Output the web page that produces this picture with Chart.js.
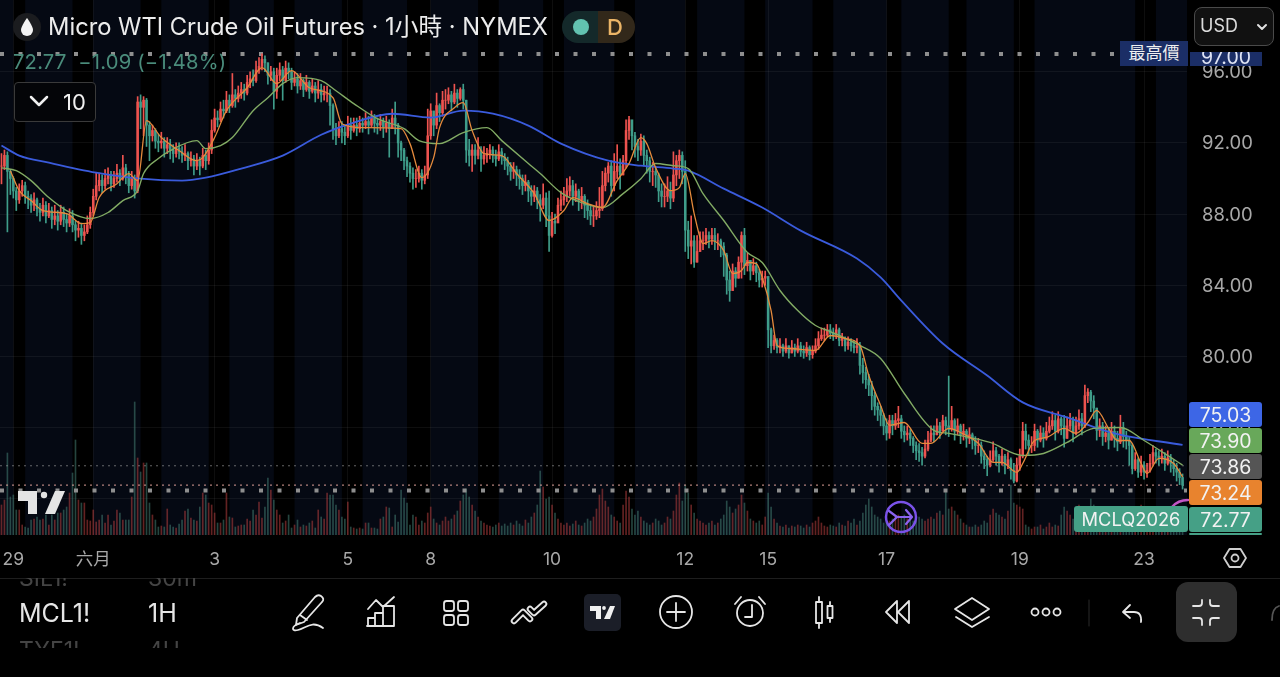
<!DOCTYPE html>
<html>
<head>
<meta charset="utf-8">
<title>MCL1!</title>
<script src="https://cdn.jsdelivr.net/npm/chart.js@4/dist/chart.umd.min.js"></script>
<style>
    html, body { margin: 0; padding: 0; background: #000; }
    body { width: 1280px; height: 677px; overflow: hidden; position: relative; font-family: Inter, "Noto Sans CJK TC", sans-serif; color: #e6e6e6; }
    canvas { position: absolute; left: 0; top: 0; }
    svg { position: absolute; left: 0; top: 0; }
    .abs { position: absolute; white-space: nowrap; }
    .tag { position: absolute; left: 1189px; width: 73px; text-align: center; color: #f2f2f2; font-size: 19.5px; border-radius: 3px; }
    .clip { position: absolute; overflow: hidden; color: #444; font-size: 23px; white-space: nowrap; }
</style>
</head>
<body>
<canvas id="chart" width="1280" height="677"></canvas>

<div class="abs" style="left:14px;top:82px;width:80px;height:38px;border:1px solid #3a3a3a;border-radius:4px;background:#040508"></div>
<div class="abs" style="left:1194px;top:7px;width:78px;height:37px;border:1px solid #4a4a4a;border-radius:8px;background:#111"></div>

<svg width="1280" height="677" fill="none" stroke="#e6e6e6" stroke-width="1.8" stroke-linecap="round" stroke-linejoin="round">
    <!-- symbol badge -->
    <circle cx="27" cy="27" r="14" fill="#1b1c1f" stroke="none"/>
    <path d="M27 18 C27 18 21 26 21 30 a6 6 0 0 0 12 0 C33 26 27 18 27 18z" fill="#f4f4f4" stroke="none"/>
    <path d="M580 11 H578 a16 16 0 0 0 0 32 H598 V11z" fill="#14292a" stroke="none"/>
    <path d="M598 11 H619 a16 16 0 0 1 0 32 H598z" fill="#32281a" stroke="none"/>
    <circle cx="581" cy="27" r="8" fill="#62c2b0" stroke="none"/>
    <!-- legend collapse chevron -->
    <polyline points="31,97 39,105 47,97" stroke="#f0f0f0" stroke-width="2.5"/>
    <polyline points="1258,25 1262,29 1266,25" stroke="#e0e0e0" stroke-width="2"/>
    <!-- TV logo on the pane -->
    <g fill="#e4e4e4" stroke="none">
        <path d="M18 491 H37 V514 H28 V501 H18z"/>
        <circle cx="44" cy="495" r="3.2"/>
        <path d="M55 491 H65 L55 514 H45z"/>
    </g>
    <!-- go-to-realtime and marker -->
    <circle cx="901" cy="517" r="15" stroke="#7a52e8" stroke-width="2.5"/>
    <path d="M889 511 L897 517 H912 M897 517 L889 525 M906 510 L912 517 L906 524" stroke="#8a63f0" stroke-width="2.2"/>
    <path d="M1172 507 Q1178 500 1188 500" stroke="#c256c4" stroke-width="2.5"/>
    <!-- settings hexagon -->
    <polygon points="1224,558 1229.500,549 1240.500,549 1246,558 1240.500,567 1229.500,567" stroke="#cfcfcf"/>
    <circle cx="1235" cy="558" r="3.5" stroke="#cfcfcf"/>
    <line x1="0" y1="578.500" x2="1280" y2="578.500" stroke="#1e1e1e" stroke-width="1"/>
    <!-- toolbar icons -->
    <path d="M297 618 L315 597 q3 -3 6 -1 q4 3 1 6 L304 622 L296 625z M300 615 L307 620"/>
    <path d="M300 623 C291 626 291 632 298 630 C306 628 312 620 323 628"/>
    <path d="M368 609 L376 600 L383 607 L394 597 M368 626 V618 H375 V626 M375 626 V613 H383 V626 M383 626 V606 H394 V626 M367 626 H394"/>
    <rect x="444" y="601" width="10" height="10" rx="2.5"/>
    <rect x="458" y="601" width="10" height="10" rx="2.500"/>
    <rect x="444" y="615" width="10" height="10" rx="2.5"/>
    <rect x="458" y="615" width="10" height="10" rx="2.5"/>
    <path d="M514 621 L523 612 L530 619 M530 609 L534 613 L544 604" stroke-width="6.5"/>
    <path d="M514 621 L523 612 L530 619 M530 609 L534 613 L544 604" stroke="#000" stroke-width="2.8"/>
    <rect x="584" y="594" width="37" height="37" rx="5" fill="#1b1e28" stroke="none"/>
    <g fill="#f0f0f0" stroke="none">
        <path d="M590 606 H601 V619 H596 V611 H590z"/>
        <circle cx="604" cy="608" r="1.9"/>
        <path d="M610 606 H615 L610 619 H604z"/>
    </g>
    <circle cx="676" cy="612" r="16"/>
    <path d="M676 603 V621 M667 612 H685"/>
    <circle cx="750" cy="613" r="13"/>
    <path d="M752 605 V617 H745 M735 604 L741 597 M759 597 L765 604"/>
    <rect x="816" y="602" width="6" height="21" stroke-width="1.800"/>
    <path d="M819 597 V602 M819 623 V628 M830 602 V606 M830 618 V622"/>
    <rect x="827.500" y="606" width="5" height="12" stroke-width="1.8"/>
    <path d="M897 601 L886 612 L897 623z M909 601 L898 612 L909 623z"/>
    <path d="M972 598 L989 609 L972 620 L955 609z M956 617 L972 627 L989 617"/>
    <circle cx="1035" cy="612" r="3.5"/>
    <circle cx="1046" cy="612" r="3.5"/>
    <circle cx="1057" cy="612" r="3.5"/>
    <line x1="1089" y1="600" x2="1089" y2="626" stroke="#2a2a2a" stroke-width="1"/>
    <path d="M1123 612 L1130 605 M1123 612 L1130 618 M1123 612 H1134 Q1142 612 1141 622"/>
    <rect x="1176" y="582" width="61" height="60" rx="12" fill="#2e2e2e" stroke="none"/>
    <path d="M1193 606 H1199 Q1202 606 1202 603 V600 M1219 606 H1213 Q1210 606 1210 603 V600 M1193 618 H1199 Q1202 618 1202 621 V625 M1219 618 H1213 Q1210 618 1210 621 V625"/>
    <path d="M1279 606 Q1272 608 1272 620" stroke="#555"/>
</svg>

<div class="abs" style="left:48px;top:12px;font-size:23.700px;line-height:30px;color:#ececec">Micro WTI Crude Oil Futures · 1小時 · NYMEX</div>
<div class="abs" style="left:607px;top:12px;font-size:22px;font-weight:500;line-height:30px;color:#ecb567">D</div>
<div class="abs" style="left:13px;top:51px;font-size:20.200px;letter-spacing:0.2px;line-height:22px;color:#4a8c7b">72.77 &nbsp;−1.09 (−1.48%)</div>
<div class="abs" style="left:63px;top:88px;font-size:22px;line-height:28px;color:#f0f0f0">10</div>
<div class="abs" style="left:1200px;top:13px;font-size:18px;line-height:26px;color:#dcdcdc">USD</div>

<!-- price scale tags -->
<div class="abs" style="left:1120px;top:41px;width:68px;height:25px;background:#1b2e66;color:#f0f0f0;text-align:center;font-size:17px;line-height:25px">最高價</div>
<div class="tag" style="left:1190px;top:52px;height:14px;width:72px;border-radius:0;background:#1b2e66;overflow:hidden;line-height:10px;color:#dfe4f5">97.00</div>
<div class="tag" style="top:402px;height:25px;line-height:26px;background:#3d66e6">75.03</div>
<div class="tag" style="top:428px;height:25px;line-height:26px;background:#68a85a">73.90</div>
<div class="tag" style="top:454px;height:25px;line-height:26px;background:#555">73.86</div>
<div class="tag" style="top:480px;height:25px;line-height:26px;background:#e8832e">73.24</div>
<div class="tag" style="top:507px;height:25px;line-height:26px;background:#45a086">72.77</div>
<div class="tag" style="top:533px;height:2px;background:#45a086"></div>
<div class="abs" style="left:1074px;top:506px;width:114px;height:26px;background:#45a086;border-radius:3px;color:#f2f2f2;text-align:center;font-size:18.300px;line-height:27px">MCLQ2026</div>

<!-- symbol and interval pickers -->
<div class="clip" style="left:19px;top:578px;height:9px;width:100px"><div style="margin-top:-14px">SIL1!</div></div>
<div class="clip" style="left:148px;top:578px;height:9px;width:100px"><div style="margin-top:-14px">30m</div></div>
<div class="abs" style="left:19px;top:598px;font-size:25px;line-height:30px">MCL1!</div>
<div class="abs" style="left:148px;top:598px;font-size:25px;line-height:30px">1H</div>
<div class="clip" style="left:19px;top:640px;height:8px;width:100px"><div style="margin-top:-4px">TYE1!</div></div>
<div class="clip" style="left:148px;top:640px;height:8px;width:100px"><div style="margin-top:-4px">4H</div></div>

<script>
// hourly OHLC, open of each bar is the previous close
const closes = [
    90.7,91.3,90.4,90.0,89.3,88.8,89.3,89.6,89.0,88.9,
    88.5,88.8,88.3,88.1,88.5,87.9,88.2,87.7,87.9,87.6,
    88.1,87.7,87.5,87.9,87.4,87.1,87.2,86.8,87.0,87.4,
    88.1,89.0,89.6,89.9,89.6,90.0,90.2,89.7,90.0,90.3,
    90.0,90.6,90.2,89.6,90.0,89.3,94.3,94.0,94.4,93.0,
    92.4,92.7,92.1,92.0,92.1,91.7,91.9,91.6,91.4,91.7,
    91.5,91.3,91.4,91.0,91.1,90.7,91.0,90.7,91.3,91.0,
    91.6,92.7,93.4,93.3,93.9,93.8,94.4,94.1,94.7,94.5,
    94.8,95.0,94.8,95.4,95.6,95.5,96.1,96.3,96.7,96.5,
    95.8,96.0,94.9,95.8,96.1,95.5,96.2,96.0,95.4,95.6,
    95.2,95.5,95.0,95.4,94.9,95.2,94.8,95.0,94.7,94.8,
    94.8,94.1,92.8,92.4,92.8,92.6,92.4,93.0,92.7,93.0,
    92.8,93.1,93.0,93.2,93.0,93.4,93.1,93.0,93.2,92.9,
    93.1,92.8,93.4,93.0,92.0,91.6,91.0,90.7,90.3,90.0,
    90.0,90.3,89.9,90.2,92.4,93.8,93.0,94.1,93.7,94.4,
    94.4,94.7,94.3,94.8,94.5,95.0,94.4,91.6,91.3,91.6,
    91.3,91.6,91.1,91.3,91.4,91.6,91.3,91.1,91.5,91.2,
    91.0,90.7,90.4,90.5,90.2,90.0,89.6,89.8,89.3,89.0,
    89.3,88.8,88.5,88.9,87.9,86.8,87.6,87.5,88.5,88.8,
    89.0,89.3,89.6,89.0,89.3,88.8,89.0,88.5,88.2,87.9,
    87.9,88.2,88.3,89.6,90.3,90.7,89.6,90.4,90.7,90.2,
    91.0,92.7,93.3,92.4,91.8,91.6,92.1,91.3,91.0,90.4,
    90.4,90.2,89.3,89.0,89.0,89.3,88.9,90.2,91.0,91.3,
    90.4,87.1,86.2,86.5,85.3,85.9,86.5,86.5,86.8,86.6,
    86.8,86.5,86.5,86.2,85.7,84.3,83.7,84.8,84.4,85.3,
    86.8,85.1,85.4,84.8,85.1,84.7,84.3,84.4,84.5,81.5,
    80.6,80.9,80.5,80.6,80.3,80.6,80.2,80.5,80.3,80.6,
    80.3,80.2,80.5,80.1,80.3,80.6,81.0,81.2,81.2,81.5,
    81.3,81.2,81.5,80.9,81.0,80.6,80.8,80.6,80.5,80.6,
    79.5,79.1,78.7,78.4,77.8,77.2,77.0,76.7,76.1,75.7,
    76.4,76.1,76.4,76.5,75.8,75.6,75.7,75.4,75.0,74.7,
    74.6,74.4,74.8,75.3,75.7,75.6,76.1,75.8,76.4,76.1,
    75.9,76.4,75.8,76.1,75.6,75.8,75.4,75.6,75.3,75.0,
    75.0,74.4,74.2,73.9,74.2,74.7,74.4,74.0,74.4,73.9,
    74.2,73.6,73.0,73.9,74.4,75.8,75.3,75.0,75.0,75.8,
    75.3,75.7,75.4,75.8,76.1,76.4,75.8,76.5,76.1,75.4,
    76.1,76.4,75.7,76.1,76.5,76.1,77.8,78.0,77.5,77.1,
    75.85,76.1,75.5,75.7,75.3,75.8,75.4,75.2,76.0,75.5,
    75.3,75.0,73.7,74.2,73.5,73.9,73.5,73.6,74.0,74.6,
    74.4,74.3,74.4,74.0,74.3,74.0,73.7,73.5,73.2,72.77
];
const highs = [
    91.4,91.6,91.5,90.5,90.1,89.5,89.7,89.9,89.8,89.3,
    89.1,89.2,88.9,88.6,88.9,88.7,88.6,88.4,88.5,88.2,
    88.5,88.4,88.0,88.3,88.2,87.6,87.6,87.5,87.4,87.9,
    88.4,89.4,90.3,90.3,90.2,90.5,90.6,90.4,90.4,90.8,
    90.5,91.3,90.8,90.4,90.4,90.2,94.6,94.7,94.6,94.5,
    93.2,93.0,92.8,92.5,92.6,92.3,92.3,92.2,91.9,92.0,
    92.0,91.8,91.9,91.5,91.5,91.3,91.4,91.2,91.7,91.6,
    92.0,93.3,93.9,93.8,94.3,94.4,94.9,94.7,95.9,95.0,
    95.2,95.4,95.3,95.8,96.0,96.1,96.6,96.8,97.0,96.9,
    96.5,96.3,96.2,96.2,96.5,96.3,96.6,96.5,96.2,96.0,
    95.9,95.9,95.6,95.8,95.5,95.6,95.4,95.5,95.3,95.2,
    95.2,95.0,94.2,93.1,93.2,93.2,93.0,93.5,93.4,93.4,
    93.4,93.5,93.4,93.7,93.5,93.8,93.6,93.4,93.6,93.4,
    93.5,93.3,93.9,94.3,93.1,92.1,91.7,91.2,90.9,90.6,
    90.5,90.7,90.5,90.7,93.9,94.2,93.6,94.8,94.2,94.9,
    95.0,95.1,94.9,95.3,95.0,95.1,95.3,94.4,92.2,91.9,
    91.9,92.3,91.8,91.8,91.7,91.9,91.8,91.6,91.9,91.7,
    91.4,91.2,90.9,90.9,90.7,90.5,90.2,90.2,89.9,89.6,
    89.6,89.5,89.1,89.7,89.2,89.3,88.1,88.0,88.9,89.3,
    89.5,90.0,90.1,89.9,89.7,89.4,89.5,89.1,88.8,88.5,
    88.4,88.7,89.5,90.4,90.6,90.9,91.0,91.4,91.9,91.1,
    91.3,93.3,93.5,93.2,92.6,92.2,92.5,92.4,91.6,91.2,
    90.9,90.6,90.3,89.7,89.7,90.1,89.8,91.5,91.3,91.6,
    91.5,91.0,87.6,87.9,86.8,86.8,87.0,87.0,87.2,87.0,
    87.2,87.2,86.9,86.6,86.4,85.8,84.8,85.2,85.0,85.6,
    87.0,87.2,85.8,85.4,85.5,85.3,84.9,84.8,84.8,82.5,
    81.6,81.2,81.0,81.0,80.7,81.0,80.6,80.9,80.7,81.0,
    80.8,80.6,80.8,80.6,80.6,81.0,81.4,81.6,81.6,81.8,
    81.8,81.6,81.8,81.6,81.3,81.1,81.1,81.0,80.9,81.0,
    80.8,79.9,79.4,79.0,78.6,78.0,77.4,77.2,76.8,76.5,
    76.7,76.7,76.8,77.2,76.7,76.1,76.1,75.9,75.5,75.2,
    75.1,74.9,75.3,75.8,76.1,76.1,76.5,76.3,76.7,76.6,
    78.9,77.2,76.5,76.5,76.2,76.2,75.9,76.0,75.7,75.5,
    75.4,75.2,74.7,74.4,74.7,75.2,74.9,74.5,74.8,74.5,
    74.6,74.3,74.0,74.3,74.8,76.3,76.2,75.6,75.5,76.2,
    75.9,76.1,76.0,76.3,76.6,76.9,76.7,76.9,76.6,76.7,
    76.6,76.8,76.6,76.6,77.0,76.8,78.4,78.2,78.1,77.8,
    77.1,76.5,76.3,76.1,76.0,76.3,76.1,75.8,76.7,76.3,
    75.8,75.5,75.1,74.6,74.3,74.4,74.1,74.0,74.5,75.0,
    74.8,74.7,74.8,74.6,74.7,74.5,74.2,74.0,73.7,73.4
];
const lows = [
    89.7,90.5,87.0,89.1,88.9,88.2,88.6,89.0,88.6,88.3,
    88.1,88.2,87.9,87.6,87.9,87.5,87.8,87.2,87.4,87.1,
    87.4,87.3,87.0,87.3,87.0,86.5,86.7,86.3,86.5,86.9,
    87.2,87.9,88.8,89.3,89.2,89.4,89.7,89.3,89.5,89.8,
    89.6,89.9,89.7,89.2,89.4,88.9,89.2,92.8,92.4,91.8,
    91.0,92.1,91.7,91.5,91.7,91.2,91.4,91.1,90.9,91.2,
    91.1,90.9,91.0,90.5,90.7,90.2,90.5,90.2,90.6,90.5,
    90.8,91.4,92.6,92.9,93.2,93.4,93.7,93.7,94.0,94.0,
    94.3,94.5,94.4,94.7,95.1,95.2,95.4,95.9,96.1,96.0,
    95.3,95.5,93.9,94.5,95.5,94.4,95.4,95.6,95.0,95.2,
    94.8,95.0,94.6,94.9,94.5,94.8,94.3,94.5,94.3,94.4,
    94.3,93.0,92.2,91.9,92.3,92.0,91.9,92.3,92.2,92.6,
    92.4,92.6,92.6,92.8,92.5,92.9,92.6,92.5,92.7,92.3,
    92.6,91.2,92.8,92.5,91.2,91.0,90.5,90.1,89.8,89.4,
    89.5,89.8,89.4,89.7,90.0,92.2,92.4,92.8,93.2,93.5,
    93.9,94.2,93.8,94.2,94.0,94.4,93.9,90.9,90.7,90.4,
    90.8,91.1,90.4,90.8,90.9,91.1,90.9,90.7,91.0,90.8,
    90.5,90.2,89.9,90.0,89.6,89.4,89.1,89.3,88.7,88.5,
    88.7,88.3,87.6,88.3,87.3,85.9,86.7,86.9,87.7,88.2,
    88.5,88.7,89.0,88.5,88.7,88.2,88.3,87.8,87.7,87.4,
    87.3,87.7,87.8,88.2,89.3,89.8,89.0,89.3,90.0,89.4,
    90.2,90.6,92.2,91.6,91.2,91.0,91.3,90.7,90.3,89.8,
    89.6,89.5,88.7,88.4,88.4,88.7,88.3,88.7,89.6,90.0,
    89.7,85.9,85.5,85.2,85.0,85.3,85.9,86.0,86.3,86.1,
    86.3,86.0,86.0,85.6,84.5,83.5,83.1,84.0,83.9,84.4,
    84.4,84.6,84.8,84.3,84.6,84.2,83.9,83.9,84.0,80.5,
    80.2,80.4,80.2,80.2,80.0,80.2,79.9,80.2,80.0,80.2,
    80.0,79.9,80.0,79.8,79.9,80.2,80.4,80.9,80.9,81.1,
    81.0,80.9,81.0,80.6,80.6,80.3,80.4,80.3,80.2,80.2,
    79.0,78.5,78.2,77.8,77.0,76.7,76.4,76.1,75.6,75.3,
    75.4,75.6,75.9,76.0,75.4,75.2,75.3,75.0,74.6,74.2,
    74.1,73.9,74.3,74.7,75.2,75.2,75.6,75.4,75.8,75.6,
    75.5,75.8,75.3,75.6,75.1,75.3,74.9,75.1,74.8,74.5,
    74.6,74.0,73.7,73.3,73.8,74.1,73.9,73.5,73.9,73.4,
    73.7,73.1,72.9,72.95,73.6,74.3,74.8,74.5,74.6,74.7,
    74.9,75.2,74.9,75.3,75.7,75.9,75.3,75.7,75.6,74.9,
    75.4,75.9,75.2,75.6,75.9,75.6,76.0,77.4,76.9,76.5,
    75.3,75.5,75.0,75.2,74.8,75.3,74.9,74.7,75.1,74.9,
    74.8,73.9,73.4,73.6,73.2,73.3,73.1,73.2,73.5,73.9,
    74.0,73.9,74.0,73.6,73.9,73.5,73.3,73.0,72.8,72.55
];
const volumes = [
    30,35,82,38,40,25,25,10,8,7,
    15,16,18,15,16,20,10,20,15,22,
    22,25,28,42,62,95,35,32,32,15,
    14,25,13,15,20,12,20,10,14,25,
    22,15,15,15,38,133,77,63,72,72,
    32,20,15,8,9,8,26,10,8,7,
    11,15,24,26,17,15,14,28,42,40,
    32,30,22,12,12,15,42,18,17,8,
    9,10,10,16,14,25,20,33,17,28,
    57,45,35,25,20,12,14,20,7,10,
    15,8,10,9,12,14,7,25,18,16,
    42,40,40,30,25,18,16,33,8,7,
    6,7,6,12,12,7,7,6,16,18,
    28,27,8,20,13,45,37,32,10,20,
    18,10,14,12,22,28,16,12,10,14,
    18,14,16,20,24,34,40,46,38,30,
    24,18,14,12,10,9,8,10,12,9,
    11,9,12,10,14,11,9,15,12,18,
    22,30,64,48,36,38,30,22,16,12,
    10,12,9,11,14,10,9,12,16,14,
    18,26,40,46,34,28,20,18,14,12,
    30,44,38,26,20,24,18,14,12,10,
    12,16,14,10,12,18,16,24,40,52,
    34,50,42,30,22,16,14,12,10,12,
    14,10,12,16,20,34,28,22,26,30,
    40,32,24,16,14,12,14,10,18,42,
    28,16,12,9,8,10,7,9,8,10,
    9,7,10,8,12,14,18,12,9,8,
    10,9,8,12,10,9,14,12,16,10,
    14,22,30,36,28,20,18,16,12,14,
    14,16,18,20,18,20,16,18,14,14,
    18,16,14,16,18,16,22,24,20,43,
    26,28,24,20,16,12,10,8,8,10,
    8,10,14,12,20,26,22,20,18,16,
    24,50,32,30,28,26,10,8,6,8,
    8,10,6,8,12,8,10,9,20,28,
    24,20,16,24,30,20,14,10,36,30,
    24,18,16,12,14,12,10,12,10,14,
    14,12,18,20,24,30,26,20,14,12,
    12,10,10,12,14,16,18,22,26,28
];

// moving averages, read at the listed bars
const fastBars = [3,6,10,14,22,27,30,33,39,43,46,49,54,60,66,68,72,76,83,88,93,98,104,112,115,122,135,138,142,146,148,153,156,159,163,169,174,180,185,190,193,198,203,208,212,216,218,221,226,229,231,234,236,237,240,244,247,250,252,255,257,260,262,266,275,280,285,290,293,297,300,305,311,314,320,324,330,335,338,343,345,349,353,359,363,367,370,374,377,381,385,387,391,396,399];
const fastValues = [90.44,89.32,88.76,88.2,88.03,87.47,87.52,88.93,89.71,90.28,89.88,93.25,92.3,91.57,91.0,91.17,92.3,93.81,95.1,96.23,95.33,96.06,95.1,94.54,93.08,92.86,92.8,91.96,90.05,91.17,92.86,93.98,94.26,92.69,91.4,91.29,90.28,89.15,87.64,88.2,88.93,88.59,88.37,89.88,90.84,92.3,91.96,90.61,89.32,89.49,90.28,88.03,86.68,86.34,86.51,85.95,84.66,84.83,85.28,85.22,84.44,82.58,80.62,80.45,80.34,81.18,81.01,80.62,78.93,77.25,76.13,76.29,75.12,75.12,75.96,75.73,75.12,74.05,74.05,73.49,73.99,75.28,75.45,75.96,75.68,76.29,76.97,75.96,75.28,75.28,73.99,73.43,74.27,73.99,73.24];
const midBars = [0,5,10,16,22,30,36,41,46,48,53,57,66,69,74,78,85,90,95,100,108,113,119,127,136,141,148,156,164,169,178,182,189,196,203,210,216,221,227,232,237,244,252,257,263,269,275,280,290,297,305,315,320,327,334,345,352,360,369,378,386,395,399];
const midValues = [90.6,90.44,89.88,88.93,88.2,87.75,88.09,88.76,89.32,90.28,91.12,91.57,92.13,91.68,91.85,92.3,93.81,94.54,95.33,95.67,95.5,94.93,94.21,93.36,92.8,92.13,91.96,92.58,92.86,92.13,90.84,90.28,89.21,88.65,88.37,89.15,89.99,90.84,90.72,90.56,89.15,87.64,85.84,85.28,83.71,82.58,81.74,81.4,80.62,79.89,77.92,75.85,75.68,75.45,75.17,74.44,74.55,75.17,75.96,76.01,75.28,74.33,73.9];
const slowBars = [0,6,16,32,47,61,69,81,95,108,119,132,145,156,166,178,189,205,216,227,232,244,257,270,289,297,304,318,333,345,360,376,399];
const slowValues = [91.85,91.29,90.89,90.33,89.99,89.88,90.05,90.56,91.29,92.46,93.14,93.64,93.42,93.81,93.64,92.97,91.96,91.0,90.72,90.56,90.44,89.43,88.37,87.07,85.5,84.44,83.14,80.73,78.93,77.42,76.58,75.68,75.03];

// out-of-session shading, by bar
const bandStarts = [4,24,47,70,92,115,137,161,183,207,231,251,274,299,320,342,383];
const bandEnds = [8,31,54,77,99,122,145,168,190,214,235,258,281,304,326,349,390];

const timeTickBars = [4,31,72,117,145,186,231,259,299,344,386];
const timeTickLabels = ["29","六月","3","5","8","10","12","15","17","19","23"];
const priceTicks = [96,92,88,84,80,76,72];
const sessionHigh = 97;
const sessionLow = 72.47;
const prevClose = 73.86;
const lastPrice = 72.77;

const upColor = "#ee534f";
const downColor = "#3f9d8a";
const firstBar = -0.5;
const lastBar = 400.5;

const bars = closes.map((c, i) => i);
const opens = closes.map((c, i) => (i === 0 ? c : closes[i - 1]));
const candleColors = closes.map((c, i) => (c >= opens[i] ? upColor : downColor));
const volumeColors = closes.map((c, i) => (c >= opens[i] ? "rgba(180,62,62,0.55)" : "rgba(68,125,114,0.55)"));

function toPoints(xs, ys) {
    return xs.map((x, i) => ({ x: x, y: ys[i] }));
}

function levelLine(price, color, width, dash) {
    return {
        type: "line",
        data: [{ x: firstBar, y: price }, { x: lastBar, y: price }],
        borderColor: color,
        borderWidth: width,
        borderDash: dash,
        pointRadius: 0,
        yAxisID: "y",
        order: 4
    };
}

function maLine(xs, ys, color, width) {
    return {
        type: "line",
        data: toPoints(xs, ys),
        borderColor: color,
        borderWidth: width,
        pointRadius: 0,
        cubicInterpolationMode: "monotone",
        yAxisID: "y",
        order: 1
    };
}

// edge tick labels must not push the pane away from the canvas edge
function noEdgePadding(s) {
    s.paddingLeft = 0;
    s.paddingRight = 0;
    s.paddingTop = 0;
    s.paddingBottom = 0;
}

// pane background with the session stripes, behind grid and data
const sessionBands = {
    id: "sessionBands",
    beforeDraw(chart) {
        const { ctx, chartArea, scales } = chart;
        ctx.save();
        ctx.fillStyle = "#050913";
        ctx.fillRect(chartArea.left, chartArea.top, chartArea.width, chartArea.height);
        ctx.fillStyle = "#000";
        bandStarts.forEach((start, i) => {
            const x0 = scales.x.getPixelForValue(start);
            const x1 = scales.x.getPixelForValue(bandEnds[i]);
            ctx.fillRect(x0, chartArea.top, x1 - x0, chartArea.height);
        });
        ctx.restore();
    }
};

Chart.defaults.font.family = 'Inter, "Noto Sans CJK TC", sans-serif';

new Chart(document.getElementById("chart"), {
    type: "bar",
    data: {
        datasets: [
            maLine(fastBars, fastValues, "#e58a3c", 1.3),
            maLine(midBars, midValues, "#82ab64", 1.4),
            maLine(slowBars, slowValues, "#3a5bdc", 1.8),
            {
                data: bars.map(i => ({ x: i, y: [lows[i], highs[i]] })),
                backgroundColor: candleColors,
                barThickness: 1,
                grouped: false,
                yAxisID: "y",
                order: 3
            },
            {
                data: bars.map(i => ({ x: i, y: [opens[i], closes[i]] })),
                backgroundColor: candleColors,
                barThickness: 1.9,
                grouped: false,
                yAxisID: "y",
                order: 2
            },
            {
                data: bars.map(i => ({ x: i, y: volumes[i] })),
                backgroundColor: volumeColors,
                barThickness: 1,
                grouped: false,
                yAxisID: "volume",
                order: 5
            },
            levelLine(prevClose, "rgba(170,170,170,0.6)", 1, [2, 4]),
            levelLine(lastPrice, "rgba(235,170,160,0.75)", 1.4, [2, 4]),
            levelLine(sessionHigh, "#8f8f8f", 4, [4, 14.5]),
            levelLine(sessionLow, "#8f8f8f", 4, [4, 14.5])
        ]
    },
    plugins: [sessionBands],
    options: {
        responsive: false,
        animation: false,
        layout: { padding: 0 },
        plugins: { legend: { display: false }, tooltip: { enabled: false } },
        scales: {
            x: {
                type: "linear",
                min: firstBar,
                max: lastBar,
                offset: false,
                afterFit: s => { s.height = 142; noEdgePadding(s); },
                afterBuildTicks: s => { s.ticks = timeTickBars.map(v => ({ value: v })); },
                grid: { color: "rgba(255,255,255,0.055)", drawTicks: false, offset: false },
                border: { display: false },
                ticks: {
                    autoSkip: false,
                    maxRotation: 0,
                    padding: 14,
                    color: "#a8a8a8",
                    font: { size: 17.5 },
                    callback: (v, i) => timeTickLabels[i]
                }
            },
            y: {
                position: "right",
                min: 69.97,
                max: 100.03,
                afterFit: s => { s.width = 93; noEdgePadding(s); },
                afterBuildTicks: s => { s.ticks = priceTicks.map(v => ({ value: v })); },
                grid: { color: "rgba(255,255,255,0.055)", drawTicks: false },
                border: { display: false },
                ticks: {
                    padding: 15,
                    labelOffset: 1,
                    color: "#a8a8a8",
                    font: { size: 18.5 },
                    callback: v => v.toFixed(2)
                }
            },
            volume: {
                display: false,
                min: 0,
                max: 535
            }
        }
    }
});
</script>
</body>
</html>
